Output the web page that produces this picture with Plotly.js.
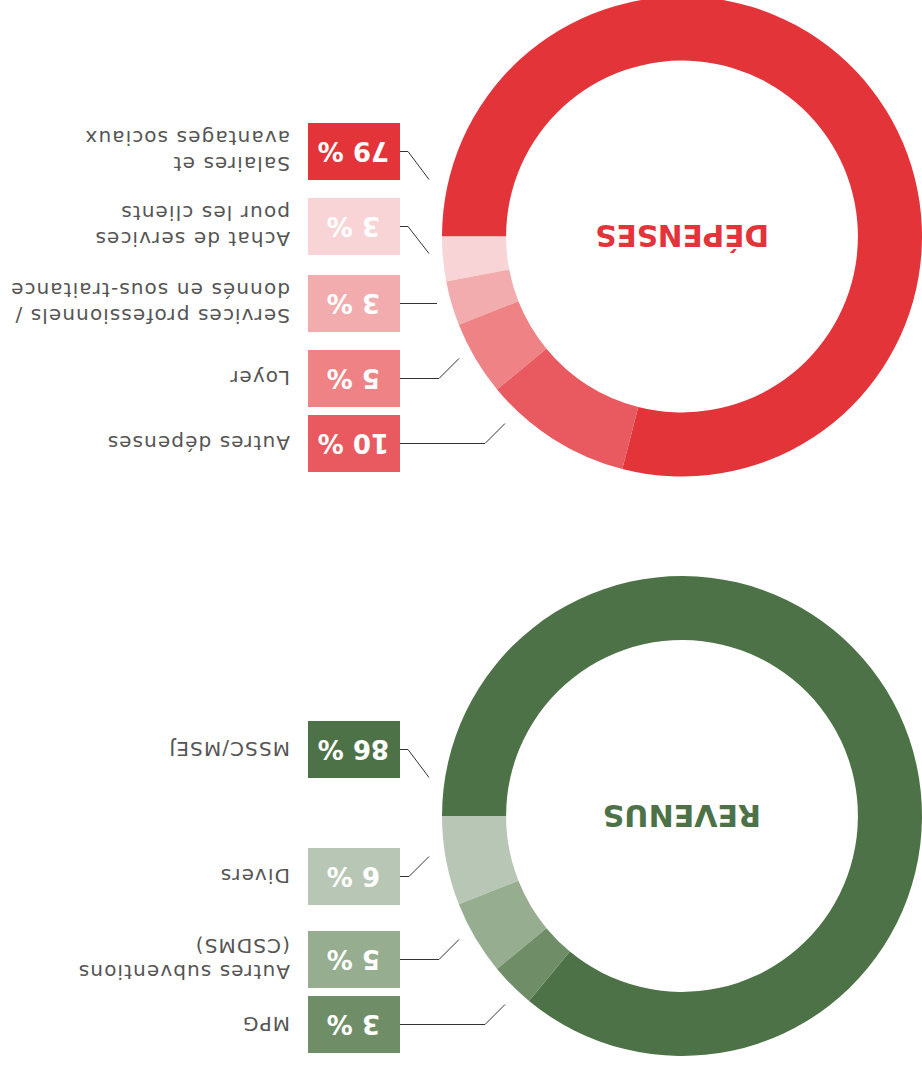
<!DOCTYPE html>
<html><head><meta charset="utf-8">
<script src="https://cdn.plot.ly/plotly-3.0.1.min.js"></script>
<style>
html,body{margin:0;padding:0;overflow:hidden;background:#fff;width:922px;height:1067px}
#chart{position:absolute;left:0;top:-10px;width:922px;height:1087px}
</style>
</head><body><div id="chart"></div>
<script>
// ---- data ----
const depTitle = 'DÉPENSES';
const depLabels = ['Salaires et<br>avantages sociaux', 'Achat de services<br>pour les clients', 'Services professionnels /<br>donnés en sous-traitance', 'Loyer', 'Autres dépenses'];
const depValues = [79, 3, 3, 5, 10];
const depColors = ['#E3343A', '#F8D4D6', '#F2ACAE', '#EE8285', '#E85A60'];

const revTitle = 'REVENUS';
const revLabels = ['MSSC/MSEJ', 'Divers', 'Autres subventions<br>(CSDMS)', 'MPG'];
const revValues = [86, 6, 5, 3];
const revColors = ['#4E7247', '#B8C7B5', '#96AD8F', '#6F8E68'];

// ---- layout (pixel geometry, not data) ----
const W = 922, H = 1087, OFF = 10;
const R = 240, HOLE = 0.733;
const depCenter = [682, 236.5];
const revCenter = [682, 816];
const depBoxY = [151.5, 226.5, 303.5, 378.5, 443.5];
const revBoxY = [749.5, 876.5, 959.5, 1024.5];
const depLeader = [[408, 429, 28], [408, 429, 27], [437, 437, 0], [439, 459, -20], [485, 505, -20]];
const revLeader = [[408, 429, 28], [409, 429, -20], [439, 459, -20], [485, 505, -20]];
const BOX_L = 308, BOX_R = 400, BOX_H = 57, LABEL_X = 292;
const FONT = 'DejaVu Sans, sans-serif';

function dom(c) {
  return {x: [(c[0] - R) / W, Math.min(1, (c[0] + R) / W)],
          y: [1 - (c[1] + OFF + R) / H, 1 - (c[1] + OFF - R) / H]};
}
function pie(labels, values, colors, center) {
  return {
    type: 'pie', labels: labels, values: values, sort: false,
    direction: 'counterclockwise',
    rotation: 270,
    hole: HOLE, domain: dom(center), textinfo: 'none', hoverinfo: 'none',
    marker: {colors: colors, line: {width: 0}}, showlegend: false
  };
}
function spaced(t) {
  return t.split('<br>').map(s => '<span style="letter-spacing:1.1px">' + s + '</span>').join('<br>');
}

const shapes = [], annotations = [];
function addLabels(labels, values, colors, boxY, leaders) {
  labels.forEach((lab, i) => {
    const y = boxY[i];
    shapes.push({type: 'rect', xref: 'x', yref: 'y', x0: BOX_L, x1: BOX_R,
      y0: y - BOX_H / 2, y1: y + BOX_H / 2, fillcolor: colors[i], line: {width: 0}, layer: 'above'});
    const L = leaders[i];
    shapes.push({type: 'path', xref: 'x', yref: 'y',
      path: `M ${BOX_R},${y} L ${L[0]},${y} L ${L[1]},${y + L[2]}`,
      line: {color: '#333333', width: 1}});
    annotations.push({xref: 'x', yref: 'y', x: (BOX_L + BOX_R) / 2, y: y,
      text: values[i] + ' %', showarrow: false, textangle: 180,
      xanchor: 'center', yanchor: 'middle',
      font: {family: FONT, size: 26, color: '#ffffff', weight: 'bold'}});
    annotations.push({xref: 'x', yref: 'y', x: LABEL_X, y: y,
      text: spaced(lab), showarrow: false, textangle: 180, align: 'left',
      xanchor: 'right', yanchor: 'middle',
      font: {family: FONT, size: 20, color: '#555555'}});
  });
}
addLabels(depLabels, depValues, depColors, depBoxY, depLeader);
addLabels(revLabels, revValues, revColors, revBoxY, revLeader);

annotations.push({xref: 'x', yref: 'y', x: depCenter[0], y: depCenter[1] - 1,
  text: depTitle, showarrow: false, textangle: 180, xanchor: 'center', yanchor: 'middle',
  font: {family: FONT, size: 29.5, color: depColors[0], weight: 'bold'}});
annotations.push({xref: 'x', yref: 'y', x: revCenter[0], y: revCenter[1],
  text: revTitle, showarrow: false, textangle: 180, xanchor: 'center', yanchor: 'middle',
  font: {family: FONT, size: 30, color: revColors[0], weight: 'bold'}});

const layout = {
  width: W, height: H, margin: {l: 0, r: 0, t: 0, b: 0},
  paper_bgcolor: '#ffffff', plot_bgcolor: 'rgba(0,0,0,0)',
  xaxis: {range: [0, W], visible: false, fixedrange: true},
  yaxis: {range: [H - OFF, -OFF], visible: false, fixedrange: true},
  shapes: shapes, annotations: annotations, showlegend: false
};
Plotly.newPlot('chart', [
  {type: 'scatter', x: [], y: [], showlegend: false, hoverinfo: 'none'},
  pie(depLabels, depValues, depColors, depCenter),
  pie(revLabels, revValues, revColors, revCenter)
], layout, {staticPlot: true, displayModeBar: false});
</script>
</body></html>
